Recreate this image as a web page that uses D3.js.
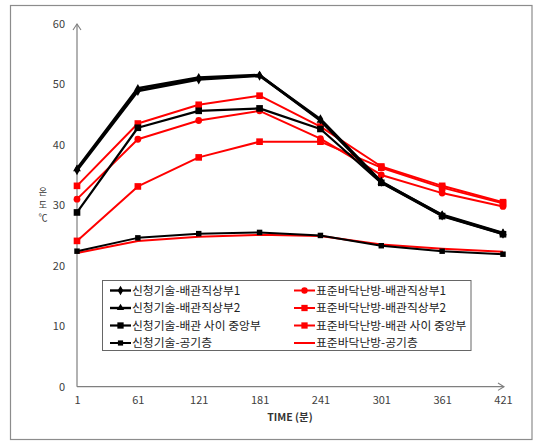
<!DOCTYPE html>
<html><head><meta charset="utf-8">
<script src="https://cdn.jsdelivr.net/npm/d3@7"></script>
<style>body{margin:0;background:#fff}svg{display:block}</style>
</head><body>
<svg id="c" width="533" height="442"></svg>
<script>
const times = [1, 61, 121, 181, 241, 301, 361, 421];
const yTicks = [0, 10, 20, 30, 40, 50, 60];

const s1 = [35.8, 48.9, 50.8, 51.4, 44.2, 33.9, 28.3, 25.3];
const s2 = [36.0, 49.3, 51.1, 51.5, 44.0, 33.8, 28.4, 25.4];
const s3 = [28.8, 42.8, 45.6, 46.0, 42.6, 33.7, 28.2, 25.2];
const s4 = [22.4, 24.6, 25.3, 25.5, 25.0, 23.3, 22.4, 21.9];
const s5 = [31.0, 40.9, 44.0, 45.6, 41.0, 35.0, 32.0, 29.8];
const s6 = [33.2, 43.5, 46.6, 48.1, 43.0, 36.4, 33.2, 30.5];
const s7 = [24.1, 33.1, 37.9, 40.5, 40.5, 36.2, 32.9, 30.3];
const s8 = [22.1, 24.1, 24.8, 25.1, 24.9, 23.5, 22.8, 22.3];

const names = ["신청기술-배관직상부1","신청기술-배관직상부2","신청기술-배관 사이 중앙부","신청기술-공기층",
               "표준바닥난방-배관직상부1","표준바닥난방-배관직상부2","표준바닥난방-배관 사이 중앙부","표준바닥난방-공기층"];
const yLabelChars = ["온","도","℃"];

const series = [
  {name:names[0], v:s1, color:"#000", marker:"diamond", size:30, w:2.8},
  {name:names[1], v:s2, color:"#000", marker:"triangle", size:26, w:2.8},
  {name:names[2], v:s3, color:"#000", marker:"square", size:44, w:2.2},
  {name:names[3], v:s4, color:"#000", marker:"square", size:30, w:2},
  {name:names[4], v:s5, color:"#ff0000", marker:"circle", size:36, w:2},
  {name:names[5], v:s6, color:"#ff0000", marker:"square", size:44, w:2},
  {name:names[6], v:s7, color:"#ff0000", marker:"square", size:44, w:2},
  {name:names[7], v:s8, color:"#ff0000", marker:null, size:0, w:2}
];

const svg = d3.select("#c");
const FONT = "'Noto Sans CJK KR','Noto Sans',sans-serif";

svg.append("rect").attr("x",10.5).attr("y",5.5).attr("width",521.5).attr("height",434)
  .attr("fill","#fff").attr("stroke","#8c8c8c").attr("stroke-width",1.2);

const x = d3.scaleLinear().domain([1,421]).range([77,503]);
const y = d3.scaleLinear().domain([0,60]).range([386.7,23.7]);

const axisColor = "#7f7f7f";
const yAxis = d3.axisLeft(y).tickValues(yTicks).tickSize(0).tickPadding(12);
const gy = svg.append("g").attr("transform","translate(77,0)").call(yAxis);
gy.select(".domain").remove();
gy.selectAll("text").attr("font-family",FONT).attr("font-size",11).attr("fill","#404040");

const xAxis = d3.axisBottom(x).tickValues(times).tickFormat(d3.format("d")).tickSize(0).tickPadding(10);
const gx = svg.append("g").attr("transform","translate(0,386.7)").call(xAxis);
gx.select(".domain").remove();
gx.selectAll("text").attr("font-family",FONT).attr("font-size",11).attr("fill","#404040");

svg.append("line").attr("x1",77).attr("x2",77).attr("y1",386.7).attr("y2",24).attr("stroke",axisColor).attr("stroke-width",1.2);
svg.append("path").attr("d","M73,30 L77,24 L81,30").attr("fill","none").attr("stroke",axisColor).attr("stroke-width",1.1);
svg.append("line").attr("x1",77).attr("x2",504).attr("y1",386.7).attr("y2",386.7).attr("stroke",axisColor).attr("stroke-width",1.2);
svg.append("path").attr("d","M498,383 L504,386.7 L498,390.4").attr("fill","none").attr("stroke",axisColor).attr("stroke-width",1.1);

// y label stacked upright characters
yLabelChars.forEach((c,i)=>{
  svg.append("text").attr("x",43).attr("y",195+i*13).attr("text-anchor","middle")
    .attr("font-family",FONT).attr("font-size",9).attr("fill","#333").text(c);
});

svg.append("text").attr("x",290).attr("y",421).attr("text-anchor","middle")
  .attr("font-family",FONT).attr("font-size",10.5).attr("font-weight","bold").attr("fill","#333").text("TIME (분)");

const symType = {diamond:d3.symbolDiamond, triangle:d3.symbolTriangle, square:d3.symbolSquare, circle:d3.symbolCircle};
const line = d3.line().x((d,i)=>x(times[i])).y(d=>y(d));

const order = [7,6,5,4,3,2,1,0];
order.forEach(k=>{
  const s = series[k];
  const g = svg.append("g");
  g.append("path").attr("d",line(s.v)).attr("fill","none").attr("stroke",s.color).attr("stroke-width",s.w).attr("stroke-linejoin","round");
  if (s.marker){
    g.selectAll("path.m").data(s.v).join("path").attr("class","m")
      .attr("transform",(d,i)=>`translate(${x(times[i])},${y(d)})`)
      .attr("d",d3.symbol().type(symType[s.marker]).size(s.size)).attr("fill",s.color);
  }
});

const lg = svg.append("g");
lg.append("rect").attr("x",102.5).attr("y",280.5).attr("width",368.5).attr("height",70)
  .attr("fill","#fff").attr("stroke","#666").attr("stroke-width",1);
series.forEach((s,i)=>{
  const col = i<4 ? 0 : 1;
  const row = i%4;
  const lx = col===0 ? 110 : 294;
  const ly = 290.5 + row*17.5;
  lg.append("line").attr("x1",lx).attr("x2",lx+21).attr("y1",ly).attr("y2",ly).attr("stroke",s.color).attr("stroke-width",Math.min(s.w,2.4));
  if (s.marker){
    lg.append("path").attr("transform",`translate(${lx+10.5},${ly})`)
      .attr("d",d3.symbol().type(symType[s.marker]).size(s.size*0.9)).attr("fill",s.color);
  }
  lg.append("text").attr("x",lx+22).attr("y",ly+4.3).attr("font-family",FONT).attr("font-size",11.8)
    .attr("fill","#222").text(s.name);
});
</script>
</body></html>
